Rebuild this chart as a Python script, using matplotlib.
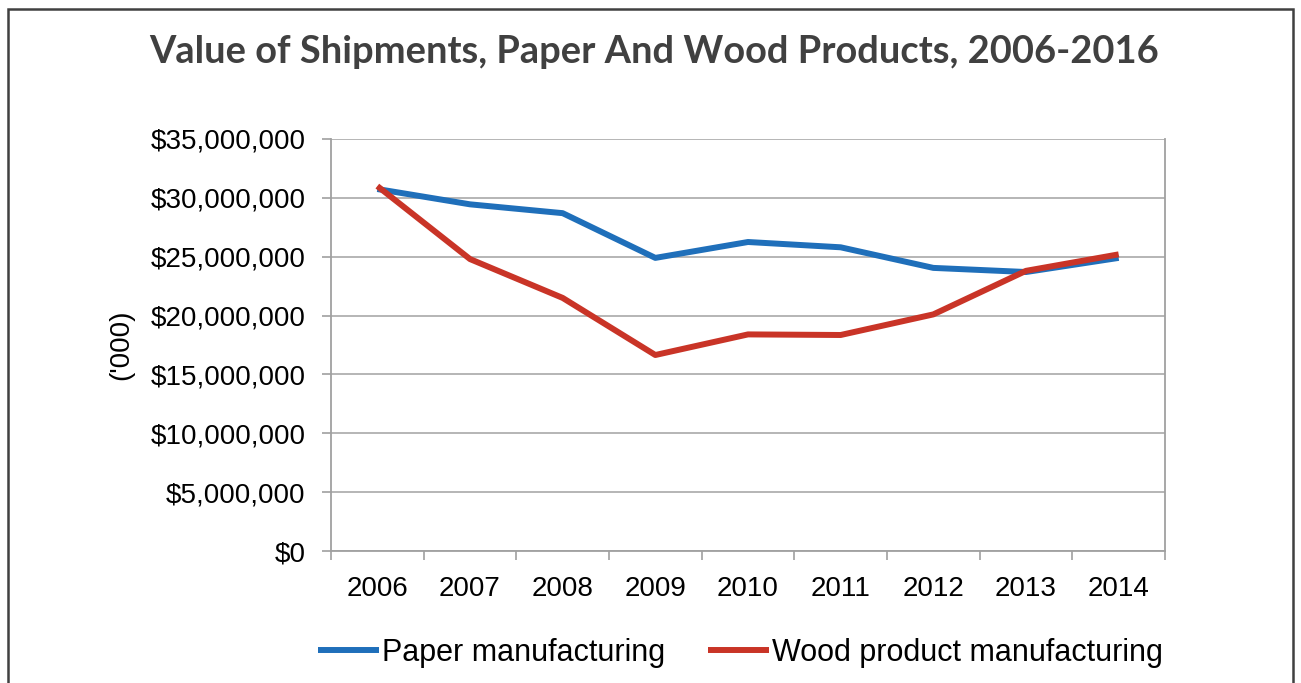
import matplotlib
matplotlib.use("Agg")
import matplotlib.pyplot as plt
from matplotlib.patches import Rectangle
from matplotlib.ticker import FuncFormatter, FixedLocator

years = ["2006", "2007", "2008", "2009", "2010", "2011", "2012", "2013", "2014"]
paper = [30750000, 29450000, 28700000, 24900000, 26250000, 25800000, 24050000, 23700000, 24900000]
wood = [31000000, 24800000, 21500000, 16650000, 18400000, 18350000, 20100000, 23800000, 25200000]

plt.rcParams['font.family'] = ['Liberation Sans', 'DejaVu Sans']

fig = plt.figure(figsize=(13.01, 6.83), dpi=100)
ax = fig.add_axes([331 / 1301, 1 - 551 / 683, (1165 - 331) / 1301, (551 - 139) / 683])

x = list(range(len(years)))
ax.plot(x, paper, color="#1f6fba", lw=4.3, solid_capstyle="butt", label="Paper manufacturing")
ax.plot(x, wood, color="#c93427", lw=4.3, solid_capstyle="butt", label="Wood product manufacturing")

ax.set_xlim(-0.5, len(years) - 0.5)
ax.set_ylim(0, 35000000)
ax.set_yticks(range(0, 35000001, 5000000))
ax.yaxis.set_major_formatter(FuncFormatter(lambda v, p: "${:,.0f}".format(v)))
ax.set_xticks(x)
ax.set_xticklabels(years)
ax.tick_params(axis="x", length=0, labelsize=20, pad=18)
ax.xaxis.set_minor_locator(FixedLocator([i - 0.5 for i in range(len(years) + 1)]))
ax.tick_params(axis="x", which="minor", length=6.5, color="#a0a0a0", width=1.2)
ax.tick_params(axis="y", length=6.5, color="#a0a0a0", width=1.2, labelsize=20, pad=12)
ax.grid(axis="y", color="#b0b0b0", lw=1.3)
ax.set_axisbelow(True)
for s in ax.spines.values():
    s.set_color("#a0a0a0")
    s.set_linewidth(1.3)
ax.spines["top"].set_visible(False)

# y label sits just left of the tick labels, right edge near x=134px
ax.set_ylabel("('000)", fontsize=20)
ax.yaxis.set_label_coords((134 - 331) / (1165 - 331), 0.5)

# title: bold humanist face, sized to span the same width as the original
title = fig.text(0.503, 1 - 52 / 683, "Value of Shipments, Paper And Wood Products, 2006-2016",
                 ha="center", va="center", fontsize=30, fontweight="bold", color="#404040",
                 family=["Lato", "DejaVu Sans"])
fig.canvas.draw()
w = title.get_window_extent().width
title.set_fontsize(30 * 1006 / w)

fig.legend(loc="center", bbox_to_anchor=(0.569, 1 - 653 / 683), ncol=2, frameon=False,
           fontsize=22, handlelength=2.0, handletextpad=0.1, columnspacing=1.4)

fig.add_artist(Rectangle((8 / 1301, -0.05), (1293 - 8) / 1301, 1.05 - 9 / 683,
                         transform=fig.transFigure, fill=False, edgecolor="#404040", lw=1.8))

fig.savefig("out.png", dpi=100)
